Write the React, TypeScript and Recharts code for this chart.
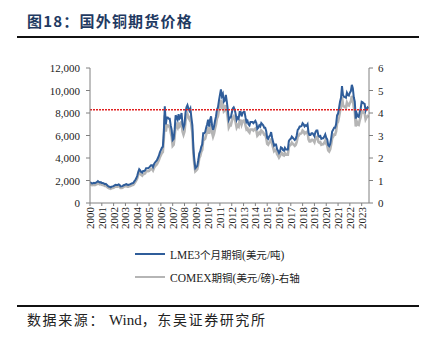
import React from "react";
import { LineChart, Line, XAxis, YAxis, ReferenceLine } from "recharts";

const START_YEAR = 2000;
const YEAR_TICKS = [2000,2001,2002,2003,2004,2005,2006,2007,2008,2009,2010,2011,2012,2013,2014,2015,2016,2017,2018,2019,2020,2021,2022,2023];
const LEFT_TICKS = [0, 2000, 4000, 6000, 8000, 10000, 12000];
const RIGHT_TICKS = [0, 1, 2, 3, 4, 5, 6];
const REF_LEVEL = 8300;

// LME 3-month copper, USD/t, monthly from Jan 2000
const LME_3M = [
  1850,1800,1740,1760,1800,1760,1800,1860,1950,1870,1830,1850,
  1780,1770,1740,1680,1700,1620,1530,1460,1440,1400,1460,1480,
  1500,1570,1620,1600,1600,1650,1620,1470,1480,1500,1580,1600,
  1650,1680,1620,1600,1650,1680,1720,1760,1780,1920,2050,2200,
  2420,2750,3000,2900,2750,2700,2850,2850,2900,3100,3100,3100,
  3150,3250,3350,3350,3200,3450,3600,3700,3800,4000,4200,4500,
  4700,4900,5000,6300,8600,7000,7600,7600,7500,7500,6900,6500,
  5600,5700,6500,7800,7600,7400,7900,7500,7600,8000,7000,6700,
  7000,8000,8500,8700,8400,8200,8400,7600,6900,4900,3800,3100,
  3200,3300,3800,4400,4600,5000,5200,6200,6200,6300,6700,7000,
  7400,6800,7400,7700,6900,6500,6800,7300,7700,8300,8500,9100,
  9600,10100,9500,9700,9000,9100,9600,9000,8300,7400,7600,7600,
  8000,8400,8500,8300,7900,7400,7600,7500,8100,8100,7700,8000,
  8100,8100,7600,7200,7300,7000,6900,7200,7200,7200,7100,7200,
  7300,7100,6600,6700,6900,6800,7100,7000,6900,6700,6700,6400,
  5800,5700,5900,6000,6300,5800,5450,5100,5200,5200,4800,4650,
  4450,4600,4950,4900,4700,4650,4900,4750,4750,4750,5500,5650,
  5700,5900,5800,5700,5600,5700,6000,6500,6600,6800,6800,6850,
  7100,7000,6800,6900,6850,7000,6250,6050,6050,6200,6200,6100,
  5950,6300,6450,6450,6000,5900,5950,5700,5750,5750,5900,6100,
  5800,5650,5150,5050,5250,5750,6350,6500,6700,6700,7000,7800,
  7950,8450,9000,9350,10400,9600,9450,9400,9350,9800,9600,9550,
  9800,9950,10500,10200,9400,9000,7500,7950,7700,7650,8100,8400,
  9000,8950,8850,8800,8200,8400,8500,8400,
];

// COMEX copper, USD/lb, monthly from Jan 2000 (right axis)
const COMEX = [
  0.84,0.82,0.79,0.80,0.82,0.80,0.82,0.84,0.88,0.85,0.83,0.84,
  0.81,0.80,0.79,0.76,0.77,0.73,0.69,0.66,0.65,0.63,0.66,0.67,
  0.68,0.71,0.73,0.73,0.73,0.75,0.73,0.67,0.67,0.68,0.72,0.73,
  0.75,0.76,0.73,0.73,0.75,0.76,0.78,0.80,0.81,0.87,0.93,1.00,
  1.10,1.25,1.36,1.32,1.25,1.22,1.29,1.29,1.32,1.41,1.41,1.41,
  1.43,1.47,1.52,1.52,1.45,1.56,1.63,1.68,1.72,1.81,1.91,2.04,
  2.13,2.22,2.27,2.86,3.90,3.18,3.45,3.45,3.40,3.40,3.13,2.95,
  2.54,2.59,2.95,3.54,3.45,3.36,3.58,3.40,3.45,3.63,3.18,3.04,
  3.18,3.63,3.86,3.95,3.81,3.72,3.81,3.45,3.13,2.22,1.72,1.41,
  1.45,1.50,1.72,2.00,2.09,2.27,2.36,2.81,2.81,2.86,3.04,3.18,
  3.36,3.08,3.36,3.49,3.13,2.95,3.08,3.31,3.49,3.76,3.86,4.13,
  4.35,4.58,4.31,4.40,4.08,4.13,4.35,4.08,3.76,3.36,3.45,3.45,
  3.63,3.81,3.86,3.76,3.58,3.36,3.45,3.40,3.67,3.67,3.49,3.63,
  3.67,3.67,3.45,3.27,3.31,3.18,3.13,3.27,3.27,3.27,3.22,3.27,
  3.31,3.22,2.99,3.04,3.13,3.08,3.22,3.18,3.13,3.04,3.04,2.90,
  2.63,2.59,2.68,2.72,2.86,2.63,2.47,2.31,2.36,2.36,2.18,2.11,
  2.02,2.09,2.25,2.22,2.13,2.11,2.22,2.15,2.15,2.15,2.49,2.56,
  2.59,2.68,2.63,2.59,2.54,2.59,2.72,2.95,2.99,3.08,3.08,3.11,
  3.22,3.18,3.08,3.13,3.11,3.18,2.83,2.74,2.74,2.81,2.81,2.77,
  2.70,2.86,2.93,2.93,2.72,2.68,2.70,2.59,2.61,2.61,2.68,2.77,
  2.63,2.56,2.34,2.29,2.38,2.61,2.88,2.95,3.04,3.04,3.18,3.54,
  3.61,3.83,4.08,4.24,4.72,4.35,4.29,4.26,4.24,4.45,4.35,4.33,
  4.45,4.51,4.76,4.63,4.26,4.08,3.40,3.61,3.49,3.47,3.67,3.81,
  4.08,4.06,4.01,3.99,3.72,3.81,3.86,3.81,
];

const data = LME_3M.map((v, i) => ({ t: START_YEAR + i / 12, lme: v, comex: COMEX[i] }));

const SERIF = "Liberation Serif";
const CJK = "'Noto Sans CJK SC', sans-serif";
const BLUE = "#2F5D9A";
const GRAY = "#B5B5B5";
const AXIS = "#808080";

const YearTick = (props: any) => {
  const { x, y, payload } = props;
  return (
    <text
      x={x}
      y={y}
      transform={`rotate(-90 ${x} ${y})`}
      textAnchor="end"
      dy={4}
      fontSize={11}
      style={{ fontFamily: SERIF }}
      fill="#222"
    >
      {payload.value}
    </text>
  );
};

const ValueTick = (props: any) => {
  const { x, y, payload, textAnchor, fmtFn } = props;
  return (
    <text x={x} y={y} dy={4} textAnchor={textAnchor} fontSize={11} style={{ fontFamily: SERIF }} fill="#222">
      {fmtFn ? fmtFn(payload.value) : payload.value}
    </text>
  );
};

const fmt = (v: number) => v.toLocaleString("en-US");

export default function App() {
  return (
    <div style={{ position: "absolute", left: 0, top: 0, width: 433, height: 338, background: "#fff", overflow: "hidden" }}>
      <div style={{ position: "absolute", left: 27, top: 11, fontFamily: CJK, fontWeight: 700, fontSize: 15, letterSpacing: 1.2, color: "#1F3A62", lineHeight: "20px", whiteSpace: "nowrap" }}>
        图18：国外铜期货价格
      </div>
      <div style={{ position: "absolute", left: 17, top: 36, width: 402, height: 2, background: "#111" }} />

      <div style={{ position: "absolute", left: 0, top: 0 }}>
        <LineChart width={433} height={338} data={data} margin={{ top: 68, right: 0, bottom: 95, left: 0 }}>
          <XAxis
            dataKey="t"
            type="number"
            domain={[2000, 2023.62]}
            ticks={YEAR_TICKS}
            interval={0}
            tick={<YearTick />}
            tickSize={3}
            tickMargin={1}
            height={40}
            stroke={AXIS}
            tickLine={{ stroke: AXIS }}
            allowDataOverflow
          />
          <YAxis
            yAxisId="left"
            orientation="left"
            domain={[0, 12000]}
            ticks={LEFT_TICKS}
            interval={0}
            width={90}
            tickSize={4}
            tickMargin={6}
            stroke={AXIS}
            tick={<ValueTick fmtFn={fmt} />}
          />
          <YAxis
            yAxisId="right"
            orientation="right"
            domain={[0, 6]}
            ticks={RIGHT_TICKS}
            interval={0}
            width={64}
            tickSize={4}
            tickMargin={5}
            stroke={AXIS}
            tick={<ValueTick />}
          />
          <Line yAxisId="right" type="linear" dataKey="comex" stroke={GRAY} strokeWidth={2.6} dot={false} isAnimationActive={false} />
          <Line yAxisId="left" type="linear" dataKey="lme" stroke={BLUE} strokeWidth={2} dot={false} isAnimationActive={false} />
          <ReferenceLine yAxisId="left" y={REF_LEVEL} stroke="#E02020" strokeWidth={1.5} strokeDasharray="2 1" />
        </LineChart>
      </div>

      <div style={{ position: "absolute", left: 135, top: 245, fontFamily: SERIF, fontSize: 11.5, color: "#222" }}>
        <div style={{ display: "flex", alignItems: "center", height: 18 }}>
          <div style={{ width: 30, height: 2, background: BLUE, marginRight: 5 }} />
          <span>LME3<span style={{ fontFamily: CJK, fontSize: 10.5 }}>个月期铜</span>(<span style={{ fontFamily: CJK, fontSize: 10.5 }}>美元</span>/<span style={{ fontFamily: CJK, fontSize: 10.5 }}>吨</span>)</span>
        </div>
        <div style={{ display: "flex", alignItems: "center", height: 18, marginTop: 5 }}>
          <div style={{ width: 30, height: 2, background: GRAY, marginRight: 5 }} />
          <span>COMEX<span style={{ fontFamily: CJK, fontSize: 10.5 }}>期铜</span>(<span style={{ fontFamily: CJK, fontSize: 10.5 }}>美元</span>/<span style={{ fontFamily: CJK, fontSize: 10.5 }}>磅</span>)-<span style={{ fontFamily: CJK, fontSize: 10.5 }}>右轴</span></span>
        </div>
      </div>

      <div style={{ position: "absolute", left: 17, top: 305, width: 402, height: 2, background: "#111" }} />
      <div style={{ position: "absolute", left: 27, top: 310, fontFamily: CJK, fontSize: 14, letterSpacing: 1.6, color: "#222", lineHeight: "18px", whiteSpace: "nowrap" }}>
        数据来源：<span style={{ fontFamily: SERIF, fontSize: 15, letterSpacing: 0, marginLeft: 4 }}>Wind</span>，东吴证券研究所
      </div>
    </div>
  );
}
